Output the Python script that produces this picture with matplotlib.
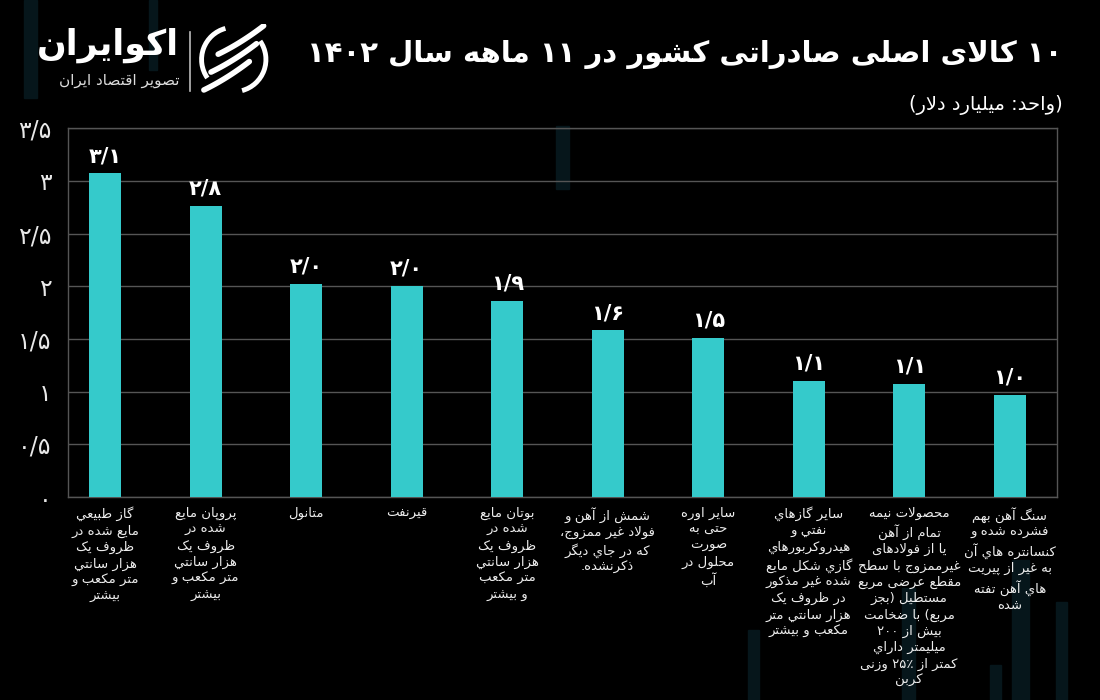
import matplotlib
matplotlib.use("Agg")
import numpy as np
import matplotlib.pyplot as plt
from matplotlib.patches import Rectangle, Arc

# ---- data -------------------------------------------------------------
categories = [
    "گاز طبیعي\nمایع شده در\nظروف یک\nهزار سانتي\nمتر مکعب و\nبیشتر",
    "پروپان مایع\nشده در\nظروف یک\nهزار سانتي\nمتر مکعب و\nبیشتر",
    "متانول",
    "قیرنفت",
    "بوتان مایع\nشده در\nظروف یک\nهزار سانتي\nمتر مکعب\nو بیشتر",
    "شمش از آهن و\nفولاد غیر ممزوج،\nکه در جاي دیگر\nذکرنشده.",
    "سایر اوره\nحتی به\nصورت\nمحلول در\nآب",
    "سایر گازهاي\nنفتي و\nهیدروکربورهاي\nگازي شکل مایع\nشده غیر مذکور\nدر ظروف یک\nهزار سانتي متر\nمکعب و بیشتر",
    "محصولات نیمه\nتمام از آهن\nیا از فولادهای\nغیرممزوج با سطح\nمقطع عرضی مربع\nمستطیل (بجز\nمربع) با ضخامت\nبیش از ۲۰۰\nمیلیمتر داراي\nکمتر از ۲۵٪ وزنی\nکربن",
    "سنگ آهن بهم\nفشرده شده و\nکنسانتره هاي آن\nبه غیر از پیریت\nهاي آهن تفته\nشده",
]
values = [3.07, 2.76, 2.02, 2.0, 1.86, 1.58, 1.51, 1.1, 1.07, 0.97]
yticks = [0, 0.5, 1, 1.5, 2, 2.5, 3, 3.5]

title = "۱۰ کالای اصلی صادراتی کشور در ۱۱ ماهه سال ۱۴۰۲"
subtitle = "(واحد: میلیارد دلار)"
brand = "اکوایران"
brand_sub = "تصویر اقتصاد ایران"

# ---- minimal arabic shaping + rtl ordering -----------------------------
FORMS = {
    "ا": ("\uFE8D", "\uFE8E", None, None), "آ": ("\uFE81", "\uFE82", None, None),
    "ب": ("\uFE8F", "\uFE90", "\uFE91", "\uFE92"), "پ": ("\uFB56", "\uFB57", "\uFB58", "\uFB59"),
    "ت": ("\uFE95", "\uFE96", "\uFE97", "\uFE98"), "ث": ("\uFE99", "\uFE9A", "\uFE9B", "\uFE9C"),
    "ج": ("\uFE9D", "\uFE9E", "\uFE9F", "\uFEA0"), "چ": ("\uFB7A", "\uFB7B", "\uFB7C", "\uFB7D"),
    "ح": ("\uFEA1", "\uFEA2", "\uFEA3", "\uFEA4"), "خ": ("\uFEA5", "\uFEA6", "\uFEA7", "\uFEA8"),
    "د": ("\uFEA9", "\uFEAA", None, None), "ذ": ("\uFEAB", "\uFEAC", None, None),
    "ر": ("\uFEAD", "\uFEAE", None, None), "ز": ("\uFEAF", "\uFEB0", None, None),
    "ژ": ("\uFB8A", "\uFB8B", None, None),
    "س": ("\uFEB1", "\uFEB2", "\uFEB3", "\uFEB4"), "ش": ("\uFEB5", "\uFEB6", "\uFEB7", "\uFEB8"),
    "ص": ("\uFEB9", "\uFEBA", "\uFEBB", "\uFEBC"), "ض": ("\uFEBD", "\uFEBE", "\uFEBF", "\uFEC0"),
    "ط": ("\uFEC1", "\uFEC2", "\uFEC3", "\uFEC4"), "ظ": ("\uFEC5", "\uFEC6", "\uFEC7", "\uFEC8"),
    "ع": ("\uFEC9", "\uFECA", "\uFECB", "\uFECC"), "غ": ("\uFECD", "\uFECE", "\uFECF", "\uFED0"),
    "ف": ("\uFED1", "\uFED2", "\uFED3", "\uFED4"), "ق": ("\uFED5", "\uFED6", "\uFED7", "\uFED8"),
    "ک": ("\uFB8E", "\uFB8F", "\uFB90", "\uFB91"), "ك": ("\uFED9", "\uFEDA", "\uFEDB", "\uFEDC"),
    "گ": ("\uFB92", "\uFB93", "\uFB94", "\uFB95"), "ل": ("\uFEDD", "\uFEDE", "\uFEDF", "\uFEE0"),
    "م": ("\uFEE1", "\uFEE2", "\uFEE3", "\uFEE4"), "ن": ("\uFEE5", "\uFEE6", "\uFEE7", "\uFEE8"),
    "ه": ("\uFEE9", "\uFEEA", "\uFEEB", "\uFEEC"), "و": ("\uFEED", "\uFEEE", None, None),
    "ی": ("\uFBFC", "\uFBFD", "\uFBFE", "\uFBFF"), "ي": ("\uFEF1", "\uFEF2", "\uFEF3", "\uFEF4"),
    "ة": ("\uFE93", "\uFE94", None, None), "ئ": ("\uFE89", "\uFE8A", "\uFE8B", "\uFE8C"),
}
LAM_ALEF = {"ا": ("\uFEFB", "\uFEFC"), "آ": ("\uFEF5", "\uFEF6")}
NUM_CHARS = set("0123456789۰۱۲۳۴۵۶۷۸۹٫٪%/")
MIRROR = {"(": ")", ")": "("}


def joins_left(c):
    return c in FORMS and FORMS[c][2] is not None


def shape(s):
    out = []
    i = 0
    while i < len(s):
        c = s[i]
        if c not in FORMS:
            out.append(c)
            i += 1
            continue
        prev_j = i > 0 and joins_left(s[i - 1])
        if c == "ل" and i + 1 < len(s) and s[i + 1] in LAM_ALEF:
            out.append(LAM_ALEF[s[i + 1]][1 if prev_j else 0])
            i += 2
            continue
        next_j = joins_left(c) and i + 1 < len(s) and s[i + 1] in FORMS
        f = FORMS[c]
        if prev_j and next_j:
            out.append(f[3])
        elif prev_j:
            out.append(f[1])
        elif next_j:
            out.append(f[2])
        else:
            out.append(f[0])
        i += 1
    return "".join(out).replace("\u200c", "")


def rtl_line(s):
    s = shape(s)
    runs = []
    for c in s:
        isnum = c in NUM_CHARS
        if runs and runs[-1][0] == isnum:
            runs[-1][1].append(c)
        else:
            runs.append([isnum, [c]])
    res = []
    for isnum, chars in reversed(runs):
        if isnum:
            res.append("".join(chars))
        else:
            res.append("".join(MIRROR.get(c, c) for c in reversed(chars)))
    return "".join(res)


def fa(s):
    return "\n".join(rtl_line(line) for line in s.split("\n"))


def fa_num(v, fmt="{:g}"):
    txt = fmt.format(v).replace(".", "/")
    return txt.translate(str.maketrans("0123456789", "۰۱۲۳۴۵۶۷۸۹"))


# ---- figure ----------------------------------------------------------------
plt.rcParams["font.family"] = ["DejaVu Sans"]
fig = plt.figure(figsize=(11, 7), dpi=100, facecolor="black")

# very faint decorative stripes in the background
for x0, y0, w, h in [(0.022, 0.86, 0.012, 0.14), (0.135, 0.9, 0.008, 0.1),
                     (0.505, 0.73, 0.012, 0.09), (0.92, 0.0, 0.015, 0.2),
                     (0.96, 0.0, 0.01, 0.14), (0.68, 0.0, 0.01, 0.1),
                     (0.82, 0.0, 0.012, 0.16), (0.9, 0.0, 0.01, 0.05)]:
    fig.patches.append(Rectangle((x0, y0), w, h, transform=fig.transFigure,
                                 color="#06161b", zorder=-5))

ax = fig.add_axes([0.0618, 0.29, 0.8991, 0.527])
ax.set_facecolor("none")
x = list(range(len(values)))
ax.bar(x, values, width=0.32, color="#35CACB", zorder=3)
for xi, v in zip(x, values):
    ax.text(xi, v + 0.07, fa_num(v, "{:.1f}"), ha="center", va="bottom",
            color="white", fontsize=15, fontweight="bold")

ax.set_xlim(-0.37, 9.47)
ax.set_ylim(0, 3.5)
ax.set_yticks(yticks)
ax.set_yticklabels([fa_num(t) for t in yticks], fontsize=17, color="#e8e8e8")
ax.set_xticks(x)
ax.set_xticklabels([fa(c) for c in categories], fontsize=9.5, color="#ededed",
                   linespacing=1.32, multialignment="center", va="top")
ax.tick_params(axis="y", length=0, pad=12)
ax.tick_params(axis="x", length=0, pad=7)
ax.grid(axis="y", color="#555555", linewidth=1, zorder=0)
for sp in ax.spines.values():
    sp.set_color("#555555")
    sp.set_linewidth(1)

# title + unit
fig.text(0.966, 0.922, fa(title), ha="right", va="center", color="white",
         fontsize=21, fontweight="bold")
fig.text(0.966, 0.85, fa(subtitle), ha="right", va="center", color="white",
         fontsize=14)

# logo
fig.text(0.163, 0.935, fa(brand), ha="right", va="center", color="white",
         fontsize=25, fontweight="bold")
fig.text(0.163, 0.885, fa(brand_sub), ha="right", va="center", color="#dddddd",
         fontsize=11)
fig.add_artist(plt.Line2D([0.173, 0.173], [0.87, 0.955], transform=fig.transFigure,
                          color="#bbbbbb", linewidth=1.2))
iax = fig.add_axes([0.18, 0.86, 0.065, 0.11])
iax.set_xlim(-1, 1)
iax.set_ylim(-1, 1)
iax.set_aspect("equal")
iax.axis("off")
iax.add_patch(Arc((0, 0), 1.8, 1.8, theta1=105, theta2=215, color="white", lw=3.5))
iax.add_patch(Arc((0, 0), 1.8, 1.8, theta1=-75, theta2=35, color="white", lw=3.5))
for d in (-0.5, 0.0, 0.5):
    t = np.linspace(-0.75, 0.75, 30)
    xs = t * np.cos(np.radians(32)) + d * 0.4
    ys = t * np.sin(np.radians(32)) + d + 0.08 * t ** 2
    iax.plot(xs, ys, color="white", lw=4, solid_capstyle="round")

fig.savefig("out.png", dpi=100, facecolor="black")
